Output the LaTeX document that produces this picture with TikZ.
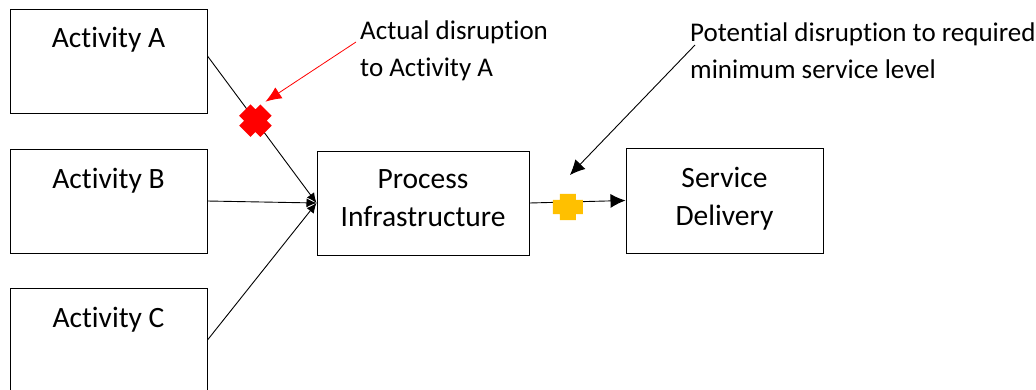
\documentclass[tikz,border=0pt]{standalone}
\usepackage{fontspec}
\setmainfont{Carlito}[Ligatures=NoCommon]
\usetikzlibrary{arrows.meta,positioning,calc}
\definecolor{disruptred}{RGB}{255,0,0}
\definecolor{disruptamber}{RGB}{255,192,0}

\begin{document}
\begin{tikzpicture}[x=1pt, y=-1pt,
    box/.style={rectangle, draw, line width=1pt, inner sep=0pt},
    actbox/.style={box, minimum width=197pt, minimum height=104pt},
    boxtext/.style={anchor=north, yshift=-19pt, inner sep=0pt, align=center, font=\fontsize{29.5}{38}\selectfont},
    note/.style={anchor=north west, inner sep=0pt, align=left, font=\fontsize{27}{37}\selectfont},
    flow/.style={-{Latex[length=10pt,width=9pt]}, line width=0.9pt},
    arrow/.style={-{Latex[length=15pt,width=14pt]}, line width=0.9pt},
    pics/plusmark/.style={code={
        \fill[#1] (-8,-15) -- (8,-15) -- (8,-8) -- (15,-8) -- (15,8) -- (8,8)
            -- (8,15) -- (-8,15) -- (-8,8) -- (-15,8) -- (-15,-8) -- (-8,-8) -- cycle;
    }}
]
    \useasboundingbox (0,0) rectangle (1036,389);

    % Activities
    \node[actbox, label={[boxtext]north:Activity A}] (acta) at (108.5,61) {};
    \node[actbox, label={[boxtext]north:Activity B}] (actb) at (108.5,201) {};
    \node[actbox, label={[boxtext]north:Activity C}] (actc) at (108.5,340) {};

    % Process and service
    \node[box, minimum width=212pt, minimum height=104pt,
        label={[boxtext]north:Process\\Infrastructure}] (proc) at (423,203) {};
    \node[box, minimum width=197pt, minimum height=105pt,
        label={[boxtext]north:Service\\Delivery}] (serv) at (724.5,200.5) {};

    % Flows
    \draw[flow] ([yshift=5pt]acta.east) -- coordinate[pos=0.44] (redx) (proc.west);
    \draw[flow] (actb.east) -- (proc.west);
    \draw[flow] (actc.east) -- (proc.west);
    \draw[arrow] (proc.east) -- coordinate[pos=0.4] (ambx) (serv.west);

    % Disruption marks
    \pic[rotate=45] at (redx) {plusmark=disruptred};
    \pic[yscale=0.88] at ([yshift=-5pt]ambx) {plusmark=disruptamber};

    % Notes
    \node[note] (actual) at (360,21) {Actual disruption\\to Activity A};
    \node[note] (potential) at (690,23) {Potential disruption to required\\minimum service level};
    \draw[-{Latex[length=16pt,width=13pt]}, disruptred, line width=0.8pt]
        ([shift={(-4,21)}]actual.north west) -- ([shift={(10,-19)}]redx);
    \draw[arrow] ([shift={(5,22)}]potential.north west) -- ([shift={(2,-27)}]ambx);
\end{tikzpicture}
\end{document}
